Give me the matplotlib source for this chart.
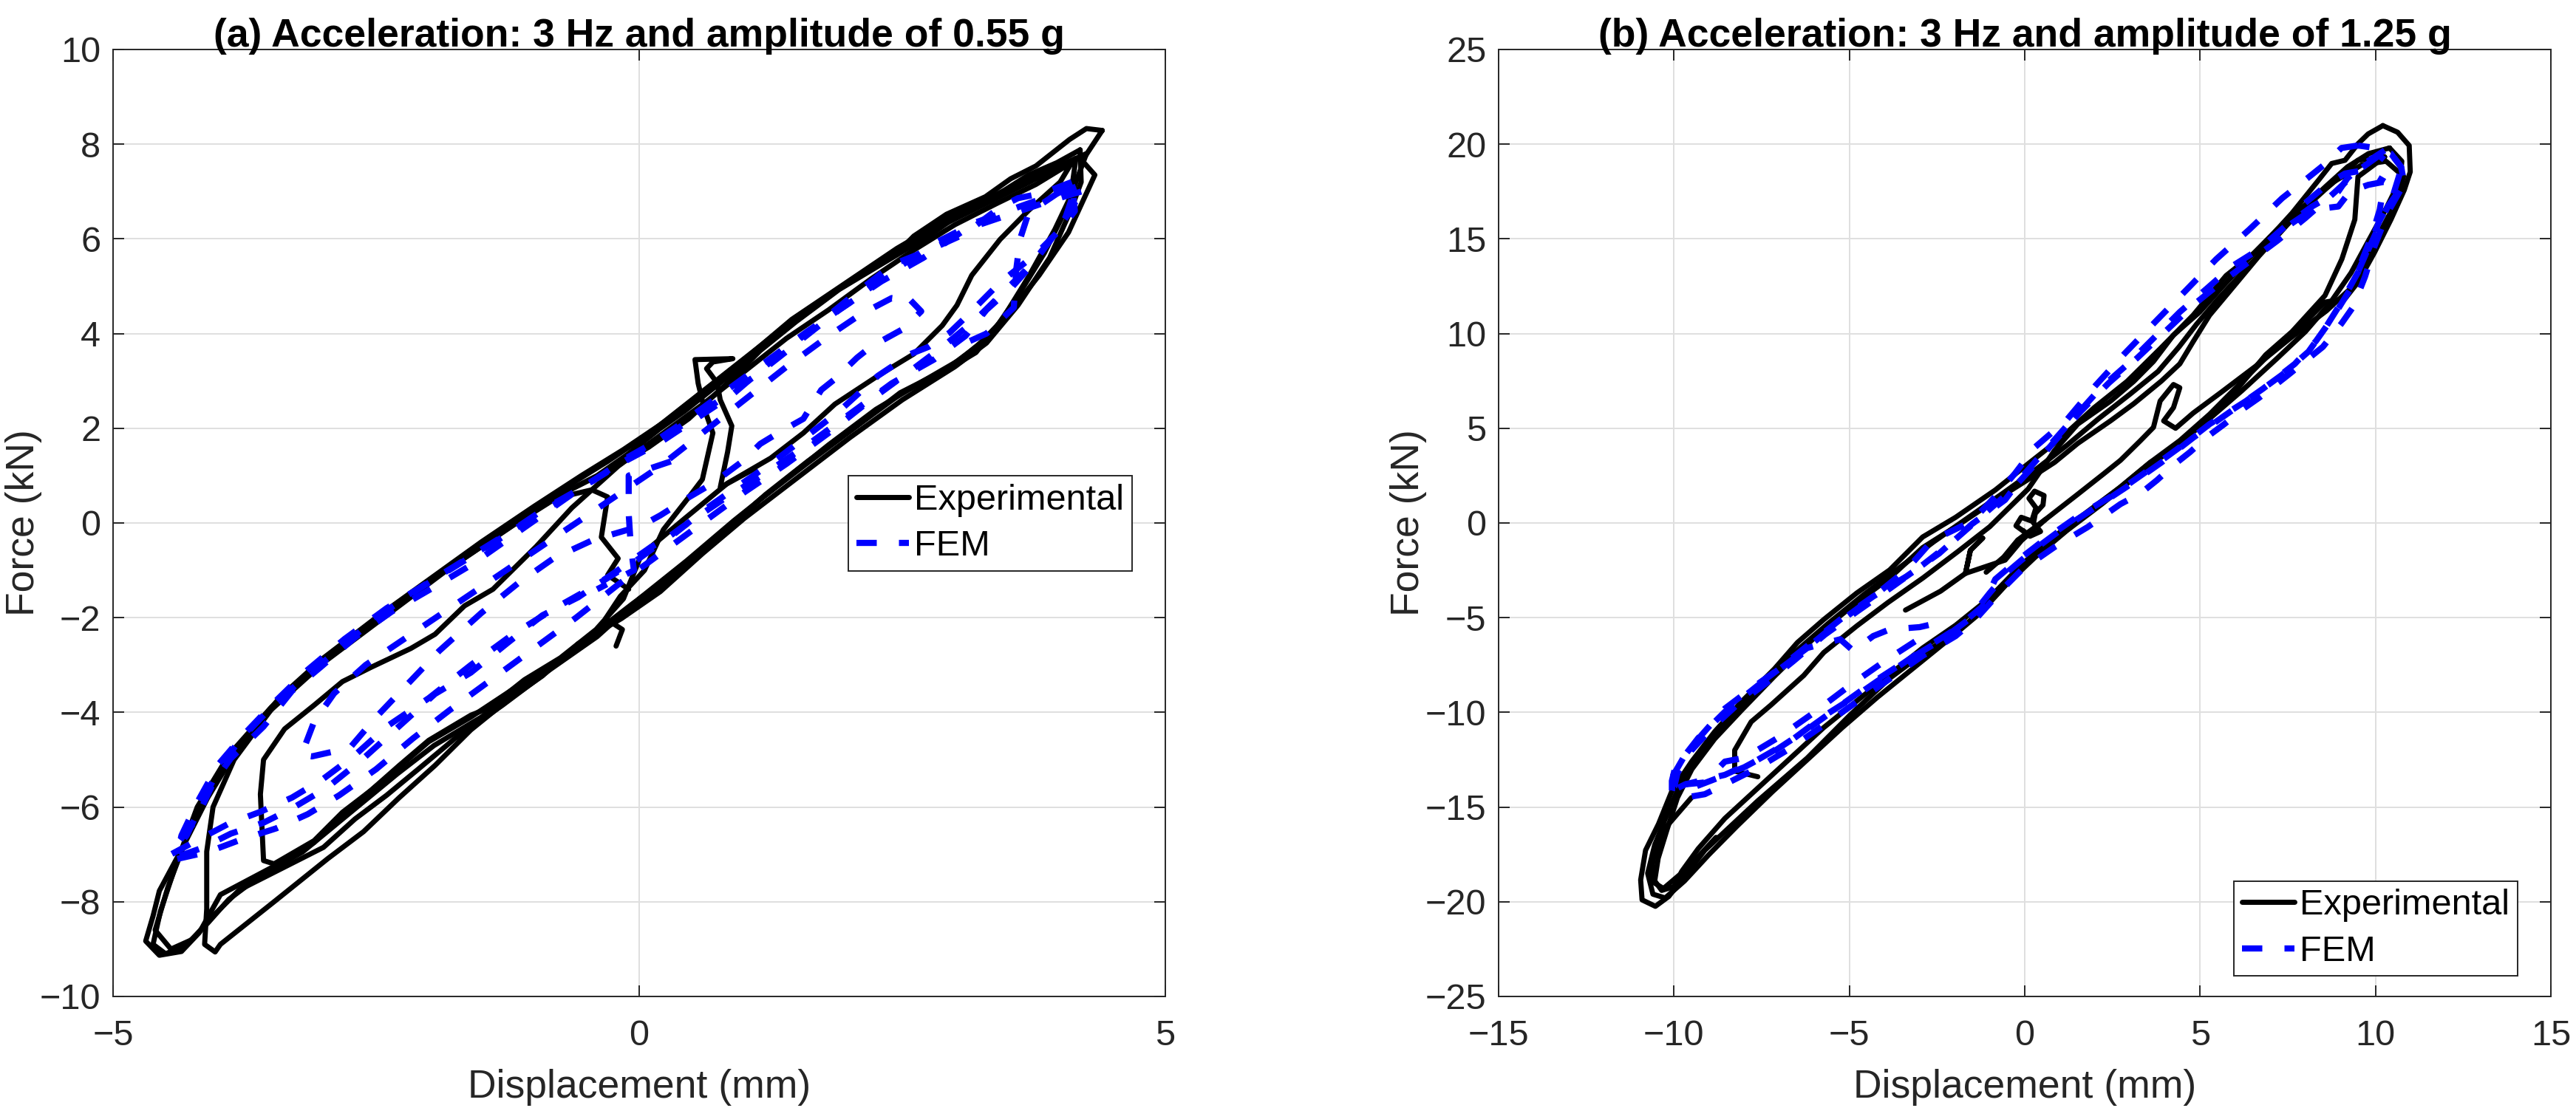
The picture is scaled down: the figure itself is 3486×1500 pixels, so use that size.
import matplotlib
matplotlib.use("Agg")
import matplotlib.pyplot as plt

plt.rcParams['font.family'] = ['Liberation Sans', 'DejaVu Sans']
plt.rcParams['axes.unicode_minus'] = True

# ---------------- data: panel (a) 3 Hz, 0.55 g ----------------
a_title = "(a) Acceleration: 3 Hz and amplitude of 0.55 g"
a_xticks = [-5, 0, 5]
a_yticks = [-10, -8, -6, -4, -2, 0, 2, 4, 6, 8, 10]

a_exp_1 = [(4.40, 8.29), (4.25, 8.33), (4.09, 8.10), (3.77, 7.54), (3.53, 7.27), (3.29, 6.89),
           (2.92, 6.52), (2.61, 6.06), (2.44, 5.68), (2.20, 5.38), (1.79, 4.78), (1.59, 4.47),
           (1.32, 4.02), (1.11, 3.57), (0.77, 2.96), (0.43, 2.36), (0.19, 1.98), (-0.11, 1.45),
           (-0.40, 1.00), (-0.75, 0.60), (-1.20, -0.05), (-1.80, -0.95), (-2.40, -1.85),
           (-2.90, -2.70), (-3.40, -3.70), (-3.80, -4.70), (-4.10, -5.80), (-4.35, -6.90),
           (-4.56, -7.77), (-4.62, -8.30), (-4.69, -8.83), (-4.56, -9.13), (-4.35, -9.05),
           (-4.18, -8.65), (-3.98, -7.85), (-3.47, -7.25), (-3.09, -6.75), (-2.82, -6.15),
           (-2.55, -5.65), (-2.28, -5.15), (-2.00, -4.62), (-1.60, -4.10), (-1.09, -3.35),
           (-0.75, -2.88), (-0.41, -2.30), (-0.06, -1.70), (0.34, -1.05), (0.77, -0.25),
           (1.15, 0.50), (1.59, 1.25), (2.07, 2.05), (2.48, 2.75), (2.92, 3.25), (3.22, 3.75),
           (3.53, 4.47), (3.80, 5.23), (4.08, 6.14), (4.33, 7.35), (4.21, 7.65), (4.40, 8.29)]

a_exp_2 = [(4.19, 7.88), (3.97, 7.61), (3.70, 7.35), (3.43, 6.97), (3.09, 6.59), (2.75, 6.06),
           (2.41, 5.61), (1.90, 4.93), (1.49, 4.25), (1.15, 3.64), (0.88, 3.04), (0.47, 2.20),
           (0.09, 1.60), (-0.30, 1.10), (-0.70, 0.65), (-1.20, -0.05), (-1.80, -0.95),
           (-2.40, -1.95), (-3.00, -2.95), (-3.50, -3.95), (-3.85, -5.00), (-4.05, -6.00),
           (-4.11, -6.94), (-4.11, -8.15), (-4.13, -8.90), (-4.03, -9.06), (-3.98, -8.90),
           (-3.47, -8.00), (-2.96, -7.09), (-2.62, -6.52), (-2.28, -5.80), (-1.94, -5.12),
           (-1.60, -4.37), (-1.26, -3.76), (-0.92, -3.23), (-0.58, -2.55), (-0.17, -2.02),
           (0.20, -1.45), (0.60, -0.65), (1.00, 0.10), (1.50, 0.95), (2.00, 1.80), (2.50, 2.60),
           (3.00, 3.30), (3.30, 3.80), (3.60, 4.60), (3.90, 5.60), (4.10, 6.60), (4.20, 7.20),
           (4.19, 7.88)]

a_exp_3 = [(4.11, 7.61), (3.77, 7.15), (3.40, 6.75), (3.00, 6.30), (2.60, 5.75), (2.20, 5.15),
           (1.80, 4.50), (1.40, 3.90), (1.00, 3.20), (0.60, 2.50), (0.20, 1.85), (-0.20, 1.20),
           (-0.64, 0.32), (-0.98, -0.50), (-1.39, -1.40), (-1.66, -1.75), (-1.94, -2.35),
           (-2.17, -2.65), (-2.55, -3.05), (-2.82, -3.35), (-3.09, -3.85), (-3.37, -4.35),
           (-3.57, -5.00), (-3.60, -5.73), (-3.57, -7.13), (-3.47, -7.20), (-3.09, -6.71),
           (-2.82, -6.11), (-2.55, -5.65), (-2.28, -5.12), (-2.00, -4.59), (-1.60, -4.06),
           (-1.43, -3.91), (-1.09, -3.31), (-0.75, -2.85), (-0.41, -2.25), (-0.15, -1.60),
           (0.02, -0.67), (0.43, 0.09), (0.84, 0.84), (1.25, 1.37), (1.56, 1.90), (1.86, 2.51),
           (2.27, 3.11), (2.61, 3.57), (2.88, 4.17), (3.02, 4.60), (3.16, 5.23), (3.43, 5.99),
           (3.70, 6.60), (4.00, 7.20), (4.11, 7.61)]

a_exp_4 = [(4.15, 7.70), (3.80, 7.30), (3.30, 6.75), (2.80, 6.20), (2.30, 5.50), (1.80, 4.80),
           (1.30, 4.00), (0.90, 3.30), (0.50, 2.60), (0.10, 1.90), (-0.30, 1.30), (-0.70, 0.75),
           (-1.10, 0.15), (-1.60, -0.60), (-2.10, -1.40), (-2.60, -2.20), (-3.10, -3.05),
           (-3.50, -3.90), (-3.90, -4.90), (-4.20, -6.00), (-4.40, -7.20), (-4.55, -8.20),
           (-4.62, -8.90), (-4.50, -9.10), (-4.30, -8.90), (-4.10, -8.45), (-3.90, -7.95),
           (-3.60, -7.45), (-3.20, -6.95), (-2.90, -6.40), (-2.60, -5.85), (-2.30, -5.30),
           (-1.95, -4.70), (-1.50, -4.10), (-1.00, -3.30), (-0.50, -2.50), (-0.06, -1.80),
           (0.35, -1.10), (0.80, -0.20), (1.20, 0.60), (1.60, 1.30), (2.10, 2.10), (2.50, 2.75),
           (2.90, 3.20), (3.20, 3.60), (3.45, 4.30), (3.70, 5.20), (3.95, 6.20), (4.10, 6.90),
           (4.15, 7.70)]

a_exp_5 = [(-0.22, -2.60), (-0.16, -2.25), (-0.32, -2.02), (-0.18, -1.55), (0.05, -1.00),
           (0.23, -0.14), (0.47, 0.54), (0.60, 0.92), (0.70, 1.90), (0.62, 2.40), (0.56, 2.95),
           (0.53, 3.45), (0.89, 3.47), (0.70, 3.40), (0.64, 3.26), (0.74, 2.96), (0.77, 2.60),
           (0.88, 2.05), (0.84, 1.50), (0.77, 0.75), (1.10, 1.15)]

a_exp_6 = [(-0.74, 0.55), (-0.45, 0.70), (-0.30, 0.55), (-0.36, -0.30), (-0.20, -0.75),
           (-0.30, -1.10), (-0.10, -1.40)]

a_exp_7 = [(4.25, 7.80), (3.90, 7.45), (3.45, 7.00), (2.95, 6.45), (2.45, 5.80), (1.95, 5.05),
           (1.45, 4.30), (1.05, 3.55), (0.65, 2.85), (0.25, 2.15), (-0.15, 1.55), (-0.55, 1.00),
           (-1.00, 0.35), (-1.50, -0.40), (-2.00, -1.20), (-2.50, -2.00), (-3.00, -2.85),
           (-3.40, -3.65), (-3.75, -4.55), (-4.05, -5.55), (-4.30, -6.65), (-4.48, -7.70),
           (-4.60, -8.60), (-4.45, -9.00), (-4.25, -8.80), (-4.05, -8.30), (-3.80, -7.75),
           (-3.40, -7.30), (-3.00, -6.85), (-2.70, -6.25), (-2.40, -5.75), (-2.10, -5.20),
           (-1.75, -4.55), (-1.30, -3.85), (-0.85, -3.10), (-0.40, -2.40), (0.00, -1.60),
           (0.45, -0.80), (0.90, 0.05), (1.35, 0.85), (1.80, 1.65), (2.25, 2.40), (2.70, 3.00),
           (3.05, 3.45), (3.35, 4.00), (3.60, 4.80), (3.85, 5.70), (4.05, 6.60), (4.25, 7.80)]

a_fem_1 = [(4.11, 7.20), (3.84, 6.97), (3.60, 6.86), (3.43, 6.67), (3.09, 6.10), (2.75, 5.76),
           (2.41, 5.46), (2.00, 4.75), (1.56, 3.95), (1.22, 3.35), (0.88, 2.70), (0.54, 2.20),
           (0.20, 1.70), (-0.18, 1.25), (-0.58, 0.70), (-0.92, 0.17), (-1.26, -0.36),
           (-1.60, -0.89), (-2.00, -1.42), (-2.35, -1.87), (-2.69, -2.40), (-3.03, -3.05),
           (-3.30, -3.55), (-3.57, -4.30), (-3.88, -4.97), (-4.05, -5.50), (-4.22, -6.30),
           (-4.42, -6.86), (-4.39, -7.05), (-4.15, -6.86), (-3.88, -6.56), (-3.57, -6.33),
           (-3.30, -6.03), (-2.96, -5.58), (-2.62, -4.97), (-2.28, -4.29), (-1.94, -3.61),
           (-1.60, -3.16), (-1.26, -2.55), (-0.92, -1.95), (-0.58, -1.57), (-0.23, -1.04),
           (0.11, -0.51), (0.30, -0.29), (0.64, 0.31), (0.98, 0.84), (1.28, 1.30), (1.59, 1.83),
           (1.90, 2.36), (2.27, 3.11), (2.58, 3.57), (2.75, 3.72), (2.95, 4.02), (3.09, 4.32),
           (3.26, 4.70), (3.43, 5.08), (3.60, 5.38), (3.77, 5.68), (3.94, 6.06), (4.04, 6.29),
           (4.14, 6.59), (4.11, 7.20)]

a_fem_2 = [(4.20, 7.00), (3.90, 6.80), (3.50, 6.50), (3.10, 6.20), (2.70, 5.60), (2.30, 5.10),
           (1.90, 4.50), (1.50, 3.80), (1.10, 3.10), (0.70, 2.50), (0.30, 1.90), (-0.10, 1.40),
           (-0.50, 0.80), (-0.90, 0.30), (-1.30, -0.30), (-1.70, -0.85), (-2.10, -1.40),
           (-2.50, -2.00), (-2.90, -2.75), (-3.20, -3.30), (-3.50, -3.90), (-3.80, -4.60),
           (-4.00, -5.20), (-4.15, -5.90), (-4.30, -6.60), (-4.45, -7.00), (-4.20, -6.70),
           (-3.90, -6.35), (-3.60, -6.10), (-3.30, -5.80), (-3.00, -5.40), (-2.70, -4.90),
           (-2.40, -4.30), (-2.00, -3.70), (-1.60, -3.00), (-1.20, -2.35), (-0.80, -1.80),
           (-0.40, -1.30), (0.00, -0.75), (0.40, -0.10), (0.80, 0.50), (1.20, 1.05), (1.60, 1.65),
           (2.00, 2.30), (2.40, 2.95), (2.80, 3.45), (3.10, 3.95), (3.30, 4.50), (3.55, 5.00),
           (3.75, 5.50), (3.95, 6.10), (4.10, 6.60), (4.20, 7.00)]

a_fem_3 = [(2.58, 4.70), (2.68, 4.47), (2.51, 4.10), (2.20, 3.72), (2.07, 3.49), (1.86, 3.04),
           (1.73, 2.81), (1.56, 2.20), (1.32, 1.90), (1.15, 1.67), (0.98, 1.30), (0.70, 0.84),
           (0.47, 0.54), (0.20, 0.16), (0.02, -0.06), (-0.44, -0.36), (-0.81, -0.74),
           (-1.15, -1.27), (-1.50, -1.90), (-1.90, -2.70), (-2.20, -3.40), (-2.50, -4.10),
           (-2.75, -4.75), (-3.11, -4.93), (-3.21, -4.90), (-3.09, -4.20), (-2.90, -3.60),
           (-2.60, -3.00), (-2.20, -2.40), (-1.80, -1.80), (-1.40, -1.20), (-1.00, -0.60),
           (-0.60, 0.00), (-0.20, 0.60), (0.20, 1.20), (0.60, 1.90), (1.00, 2.60), (1.40, 3.30),
           (1.80, 3.95), (2.10, 4.40), (2.40, 4.75), (2.58, 4.70)]

a_fem_4 = [(0.30, 1.30), (-0.10, 1.00), (-0.10, 0.20), (-0.08, -0.50), (-0.05, -1.00),
           (-0.40, -1.40)]

a_fem_5 = [(4.00, 7.00), (3.70, 6.55), (3.62, 6.00), (3.58, 5.30), (3.56, 4.55), (3.30, 4.00),
           (3.00, 3.70)]

a_fem_6 = [(4.15, 7.10), (3.70, 6.75), (3.20, 6.35), (2.80, 5.90), (2.40, 5.30), (2.00, 4.65),
           (1.60, 4.05), (1.20, 3.40), (0.80, 2.75), (0.40, 2.10), (0.00, 1.50), (-0.40, 0.95),
           (-0.80, 0.40), (-1.20, -0.15), (-1.60, -0.70), (-2.00, -1.25), (-2.40, -1.80),
           (-2.80, -2.45), (-3.15, -3.10), (-3.45, -3.75), (-3.75, -4.45), (-4.00, -5.10),
           (-4.20, -5.90), (-4.35, -6.60), (-4.40, -7.10), (-4.10, -6.95), (-3.80, -6.70),
           (-3.45, -6.45), (-3.15, -6.15), (-2.85, -5.75), (-2.50, -5.20), (-2.15, -4.55),
           (-1.80, -3.95), (-1.40, -3.30), (-1.00, -2.65), (-0.60, -2.00), (-0.20, -1.30),
           (0.20, -0.65), (0.60, 0.00), (1.00, 0.65), (1.40, 1.25), (1.80, 1.90), (2.20, 2.60),
           (2.60, 3.25), (2.90, 3.75), (3.20, 4.30), (3.45, 4.85), (3.70, 5.40), (3.90, 5.95),
           (4.05, 6.45), (4.15, 7.10)]

# ---------------- data: panel (b) 3 Hz, 1.25 g ----------------
b_title = "(b) Acceleration: 3 Hz and amplitude of 1.25 g"
b_xticks = [-15, -10, -5, 0, 5, 10, 15]
b_yticks = [-25, -20, -15, -10, -5, 0, 5, 10, 15, 20, 25]

b_exp_1 = [(10.21, 20.98), (9.79, 20.54), (9.50, 20.02), (9.13, 19.15), (8.75, 18.98),
           (8.38, 18.11), (7.62, 16.36), (6.68, 14.45), (5.74, 13.06), (4.80, 10.97),
           (3.86, 9.20), (2.92, 7.48), (1.98, 6.09), (1.04, 4.50), (0.10, 3.13), (-0.84, 1.74),
           (-1.97, 0.30), (-2.91, -0.74), (-3.85, -2.48), (-4.79, -3.70), (-5.73, -5.10),
           (-6.48, -6.31), (-7.14, -7.71), (-8.08, -9.45), (-8.84, -11.02), (-9.49, -12.58),
           (-10.06, -14.15), (-10.44, -15.89), (-10.81, -17.28), (-10.95, -18.85),
           (-10.91, -19.90), (-10.53, -20.24), (-10.15, -19.72), (-9.12, -17.28),
           (-7.61, -14.67), (-6.20, -12.41), (-4.98, -10.14), (-3.85, -8.20), (-2.91, -6.90),
           (-1.97, -5.80), (-1.20, -4.60), (-0.56, -3.30), (0.00, -2.20), (0.85, -0.90),
           (1.79, 0.50), (2.73, 1.90), (3.58, 3.20), (4.42, 4.35), (5.27, 5.74), (6.21, 7.49),
           (7.15, 9.23), (7.91, 10.45), (8.56, 11.66), (9.13, 11.84), (9.50, 12.71),
           (9.97, 14.28), (10.44, 16.02), (10.82, 17.58), (10.99, 18.54), (10.96, 19.93),
           (10.63, 20.63), (10.21, 20.98)]

b_exp_2 = [(10.26, 19.33), (9.50, 19.15), (9.00, 18.30), (8.56, 17.60), (7.62, 16.02),
           (6.68, 14.10), (5.74, 12.01), (5.27, 10.97), (4.80, 9.57), (4.42, 8.40), (3.90, 7.50),
           (3.11, 6.30), (2.45, 5.40), (1.51, 4.20), (0.85, 3.20), (0.10, 2.30), (-0.84, 1.20),
           (-1.97, -0.20), (-2.91, -1.30), (-3.85, -2.90), (-4.79, -4.20), (-5.73, -5.60),
           (-6.48, -6.90), (-7.14, -8.10), (-8.08, -9.90), (-8.84, -11.40), (-9.49, -13.00),
           (-9.90, -14.50), (-10.20, -16.20), (-10.45, -17.70), (-10.55, -18.90),
           (-10.35, -19.40), (-10.00, -19.20), (-9.78, -18.40), (-9.31, -17.20),
           (-8.55, -15.60), (-7.61, -14.00), (-6.67, -12.40), (-5.73, -10.80), (-4.79, -9.40),
           (-3.85, -8.00), (-2.91, -6.60), (-1.97, -5.40), (-1.03, -4.00), (-0.09, -2.20),
           (0.85, -0.70), (1.79, 0.60), (2.73, 1.90), (3.58, 3.20), (4.33, 4.00), (4.99, 5.22),
           (5.93, 6.79), (6.87, 8.88), (7.62, 10.10), (8.56, 12.01), (9.04, 13.93),
           (9.41, 16.02), (9.50, 18.28), (10.26, 19.33)]

b_exp_3 = [(-7.61, -13.40), (-8.27, -13.10), (-8.27, -12.00), (-7.80, -10.50), (-7.24, -9.62),
           (-6.30, -8.05), (-5.73, -6.84), (-4.79, -5.44), (-3.90, -4.20), (-2.90, -2.90),
           (-1.90, -1.50), (-1.00, -0.20), (0.10, 1.80), (0.85, 3.83), (1.51, 5.22),
           (2.45, 6.44), (3.11, 7.48), (3.67, 8.53), (4.24, 9.92), (4.99, 11.14), (5.60, 12.40),
           (6.40, 14.00), (7.20, 15.50), (8.00, 16.80), (8.80, 18.00), (9.60, 18.90),
           (10.30, 19.10), (10.80, 18.30), (10.60, 17.00), (10.20, 15.60), (9.80, 14.00),
           (9.30, 12.40), (8.60, 11.20), (7.60, 9.80), (6.60, 8.30), (5.60, 6.90), (4.80, 5.80),
           (4.30, 5.00), (3.96, 5.39), (4.24, 6.09), (4.42, 7.14), (4.24, 7.31), (3.86, 6.44),
           (3.67, 5.05), (3.30, 4.35), (2.73, 3.31), (2.26, 2.61), (1.50, 1.50), (0.60, 0.20),
           (-0.20, -0.90), (-0.60, -1.80), (-1.10, -2.60)]

b_exp_4 = [(-3.40, -4.60), (-2.40, -3.60), (-1.69, -2.66), (-1.55, -1.44), (-1.20, -0.80),
           (-1.55, -1.44), (-1.69, -2.66), (-0.56, -1.96), (-0.09, -0.92), (0.60, 0.20)]

b_exp_5 = [(-9.50, -14.50), (-10.20, -16.00), (-10.60, -17.80), (-10.65, -18.90),
           (-10.30, -19.30), (-9.60, -18.20), (-8.80, -16.60)]

b_exp_6 = [(0.05, -0.55), (-0.25, -0.15), (-0.10, 0.30), (0.20, 0.10), (0.32, 0.80),
           (0.12, 1.30), (0.28, 1.68), (0.55, 1.45), (0.52, 0.95), (0.30, 0.50), (0.25, 0.00),
           (0.45, -0.45), (0.15, -0.70), (-0.05, -0.40)]

b_exp_7 = [(10.40, 19.80), (9.80, 19.50), (9.20, 18.80), (8.60, 17.80), (7.90, 16.60),
           (7.10, 15.00), (6.30, 13.40), (5.50, 11.80), (4.90, 10.50), (4.40, 9.30), (3.80, 8.00),
           (3.00, 6.80), (2.10, 5.50), (1.20, 4.10), (0.30, 2.80), (-0.60, 1.60), (-1.60, 0.30),
           (-2.60, -1.00), (-3.60, -2.40), (-4.60, -3.80), (-5.60, -5.30), (-6.60, -6.90),
           (-7.50, -8.60), (-8.40, -10.30), (-9.20, -12.00), (-9.80, -13.70), (-10.20, -15.40),
           (-10.55, -17.00), (-10.75, -18.50), (-10.60, -19.60), (-10.25, -19.80),
           (-9.70, -18.90), (-9.00, -17.50), (-8.20, -16.00), (-7.20, -14.20), (-6.20, -12.50),
           (-5.20, -10.80), (-4.20, -9.20), (-3.20, -7.70), (-2.20, -6.20), (-1.30, -4.80),
           (-0.50, -3.20), (0.30, -1.80), (1.20, -0.40), (2.20, 1.00), (3.20, 2.50), (4.20, 3.90),
           (5.20, 5.40), (6.20, 7.00), (7.20, 8.70), (8.00, 10.10), (8.70, 11.60), (9.30, 13.20),
           (9.80, 14.90), (10.30, 16.60), (10.70, 18.10), (10.75, 19.10), (10.40, 19.80)]

b_fem_1 = [(9.50, 19.93), (9.03, 19.80), (8.52, 18.89), (8.05, 18.19), (7.34, 17.15),
           (6.40, 15.49), (5.46, 13.93), (4.59, 12.27), (3.72, 10.62), (2.84, 8.93), (2.00, 7.22),
           (1.20, 5.45), (0.29, 4.00), (-0.28, 2.61), (-0.84, 1.40), (-1.50, 0.10),
           (-2.63, -0.92), (-3.38, -2.48), (-4.42, -4.05), (-5.45, -5.44), (-6.48, -7.01),
           (-7.61, -8.58), (-8.55, -9.97), (-9.31, -11.36), (-9.97, -12.93), (-10.06, -13.62),
           (-10.06, -14.15), (-9.68, -14.50), (-9.12, -14.32), (-8.55, -13.80), (-7.61, -12.93),
           (-6.67, -11.88), (-5.73, -10.67), (-4.79, -9.45), (-3.85, -8.23), (-2.91, -7.01),
           (-1.97, -5.97), (-1.41, -5.10), (-0.56, -3.35), (-0.09, -2.48), (0.85, -1.27),
           (1.79, -0.22), (2.73, 1.00), (3.30, 1.56), (3.77, 2.26), (4.24, 3.05), (4.71, 3.74),
           (5.18, 4.52), (5.69, 5.22), (6.21, 6.00), (6.68, 6.61), (7.50, 7.80), (8.50, 9.30),
           (9.03, 10.53), (9.36, 11.40), (9.70, 13.00), (9.97, 14.60), (10.35, 16.40),
           (10.82, 17.93), (10.73, 18.80), (10.44, 19.50), (10.00, 19.80), (9.50, 19.93)]

b_fem_2 = [(10.26, 19.67), (9.70, 19.00), (9.20, 18.20), (8.94, 17.50), (8.19, 16.71),
           (7.43, 15.67), (6.68, 14.45), (5.93, 13.58), (5.18, 12.36), (4.42, 11.14),
           (3.67, 9.75), (2.92, 8.36), (2.17, 7.14), (1.41, 5.57), (0.66, 4.00), (0.00, 2.61),
           (-0.56, 1.22), (-1.50, -0.05), (-2.44, -1.61), (-3.38, -2.83), (-4.32, -3.88),
           (-5.26, -5.10), (-6.20, -6.49), (-7.14, -7.88), (-7.80, -8.75), (-8.55, -9.80),
           (-9.21, -11.19), (-9.68, -12.23), (-10.06, -13.45), (-10.06, -14.15),
           (-9.68, -13.80), (-9.00, -13.50), (-8.55, -13.30), (-7.61, -12.50), (-6.67, -11.50),
           (-5.73, -10.20), (-4.79, -9.10), (-3.85, -7.90), (-2.91, -6.70), (-1.97, -5.60),
           (-1.20, -4.40), (-0.84, -2.97), (-0.28, -2.09), (0.57, -0.87), (1.51, 0.35),
           (2.45, 1.39), (3.39, 2.61), (4.42, 4.00), (5.27, 5.22), (6.31, 6.44), (7.34, 7.83),
           (8.09, 9.05), (8.56, 10.27), (9.03, 11.66), (9.50, 13.23), (9.97, 15.15),
           (10.35, 16.71), (10.82, 17.93), (10.73, 18.80), (10.44, 19.50), (10.26, 19.67)]

b_fem_3 = [(-9.68, -13.80), (-9.12, -13.70), (-8.55, -12.60), (-7.99, -12.40), (-7.00, -11.30),
           (-6.00, -10.00), (-5.00, -8.60), (-4.00, -7.30), (-3.00, -6.10)]

b_fem_4 = [(-7.50, -8.40), (-6.20, -6.60), (-5.26, -6.14), (-4.89, -6.75), (-4.32, -5.97),
           (-3.85, -5.62), (-3.00, -5.50), (-2.30, -5.20)]

b_fem_5 = [(7.60, 15.80), (8.19, 16.54), (8.94, 16.71), (9.27, 17.50), (9.79, 17.85),
           (10.26, 18.02), (10.12, 16.54), (9.90, 15.20), (9.60, 13.80)]

b_fem_6 = [(8.00, 16.90), (8.66, 17.93), (9.13, 18.45), (9.69, 18.63), (10.26, 18.02)]

b_fem_7 = [(10.10, 19.40), (9.50, 18.60), (8.80, 17.40), (8.00, 16.10), (7.20, 14.90),
           (6.40, 13.80), (5.60, 12.70), (4.80, 11.50), (4.00, 10.10), (3.20, 8.70), (2.40, 7.40),
           (1.60, 5.90), (0.80, 4.20), (0.20, 2.90), (-0.40, 1.70), (-1.20, 0.40), (-2.00, -0.90),
           (-2.90, -2.20), (-3.80, -3.40), (-4.80, -4.70), (-5.70, -5.90), (-6.60, -7.30),
           (-7.40, -8.50), (-8.20, -9.60), (-8.90, -10.80), (-9.50, -12.00), (-9.90, -13.20),
           (-10.00, -14.00), (-9.50, -14.00), (-8.80, -13.50), (-8.00, -12.90), (-7.10, -12.00),
           (-6.20, -10.90), (-5.30, -9.70), (-4.40, -8.50), (-3.40, -7.30), (-2.40, -6.20),
           (-1.60, -5.10), (-1.00, -3.70), (-0.50, -2.60), (0.20, -1.50), (1.00, -0.40),
           (2.00, 0.80), (2.90, 1.90), (3.90, 3.20), (4.80, 4.50), (5.80, 5.80), (6.80, 7.10),
           (7.70, 8.40), (8.30, 9.60), (8.80, 10.90), (9.30, 12.40), (9.70, 14.10),
           (10.10, 15.90), (10.50, 17.30), (10.70, 18.50), (10.10, 19.40)]

# ---------------- styling ----------------
AX_COLOR = '#262626'
EXP_LW = 5.0
FEM_LW = 6.0
TICK_FS = 35
LABEL_FS = 38.5


def draw_panel(ax, title, exp_loops, fem_loops, xlim, ylim, xticks, yticks, leg_anchor):
    for i, loop in enumerate(exp_loops):
        xs = [p[0] for p in loop]
        ys = [p[1] for p in loop]
        ax.plot(xs, ys, color='black', lw=EXP_LW, solid_joinstyle='round',
                solid_capstyle='round', label='Experimental' if i == 0 else '_nolegend_',
                zorder=3)
    for i, loop in enumerate(fem_loops):
        xs = [p[0] for p in loop]
        ys = [p[1] for p in loop]
        ax.plot(xs, ys, color='#0000ff', lw=FEM_LW, linestyle=(0, (3.3, 3.6)),
                dash_capstyle='butt', label='FEM' if i == 0 else '_nolegend_', zorder=4)
    ax.set_xlim(*xlim)
    ax.set_ylim(*ylim)
    ax.set_xticks(xticks)
    ax.set_yticks(yticks)
    ax.grid(True, color='#dfdfdf', lw=1.4)
    ax.set_axisbelow(True)
    ax.tick_params(direction='in', length=10.5, width=1.4, color=AX_COLOR,
                   labelsize=TICK_FS, labelcolor=AX_COLOR, top=True, right=True)
    ax.tick_params(axis='x', pad=22)
    ax.tick_params(axis='y', pad=12)
    for s in ax.spines.values():
        s.set_color(AX_COLOR)
        s.set_linewidth(1.4)
    ax.set_title(title, fontsize=LABEL_FS, fontweight='bold', pad=3, color='black')
    ax.set_xlabel('Displacement (mm)', fontsize=LABEL_FS, color=AX_COLOR, labelpad=16)
    ax.set_ylabel('Force (kN)', fontsize=LABEL_FS, color=AX_COLOR, labelpad=-2)
    leg = ax.legend(loc='upper left', bbox_to_anchor=leg_anchor, borderaxespad=0,
                    fontsize=TICK_FS, fancybox=False, framealpha=1, edgecolor=AX_COLOR,
                    handlelength=1.45, handletextpad=0.15, borderpad=0.22,
                    labelspacing=0.36)
    leg.get_frame().set_linewidth(1.4)
    for t in leg.get_texts():
        t.set_color('black')


fig = plt.figure(figsize=(34.87, 15), dpi=100)
axA = fig.add_axes([0.04388, 0.10067, 0.40838, 0.85467])
axB = fig.add_axes([0.58159, 0.10067, 0.40838, 0.85467])

draw_panel(axA, a_title, [a_exp_1, a_exp_2, a_exp_3, a_exp_4, a_exp_5, a_exp_6, a_exp_7],
           [a_fem_1, a_fem_2, a_fem_3, a_fem_4, a_fem_5, a_fem_6],
           (-5, 5), (-10, 10), a_xticks, a_yticks, (0.699, 0.550))
draw_panel(axB, b_title, [b_exp_1, b_exp_2, b_exp_3, b_exp_4, b_exp_5, b_exp_6, b_exp_7],
           [b_fem_1, b_fem_2, b_fem_3, b_fem_4, b_fem_5, b_fem_6, b_fem_7],
           (-15, 15), (-25, 25), b_xticks, b_yticks, (0.699, 0.122))

fig.savefig('out.png', dpi=100, facecolor='white')
